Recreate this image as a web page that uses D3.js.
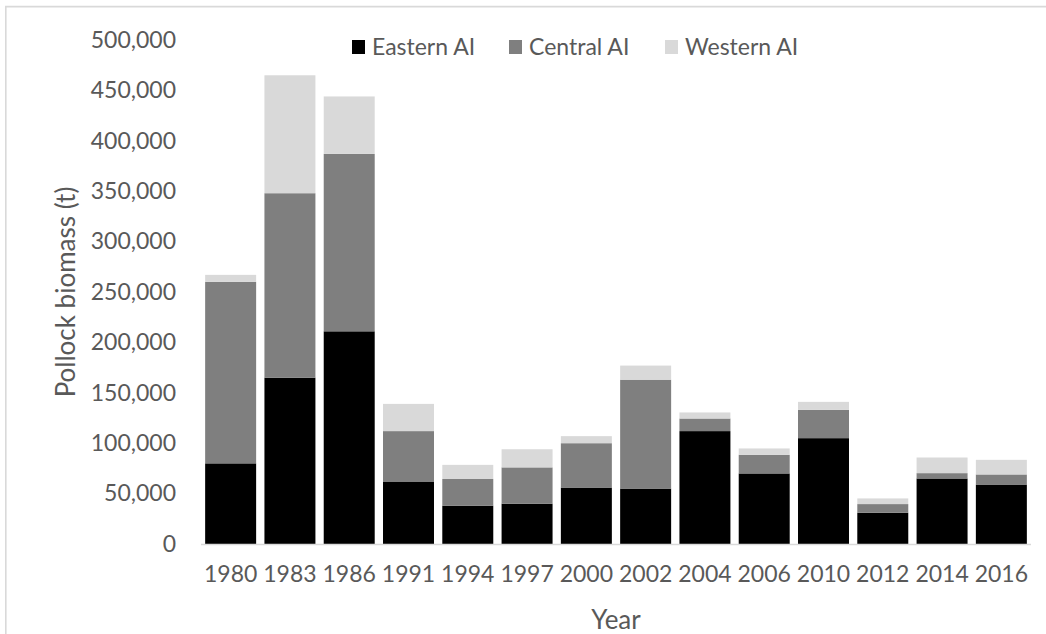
<!DOCTYPE html>
<html>
<head>
<meta charset="utf-8">
<script src="https://cdn.jsdelivr.net/npm/d3@7"></script>
<style>
  body { margin: 0; background: #fff; }
  text { font-family: Lato, "Open Sans", sans-serif; fill: #595959; }
</style>
</head>
<body>
<script>
// survey years and biomass (t) by area
var years   = ["1980","1983","1986","1991","1994","1997","2000","2002","2004","2006","2010","2012","2014","2016"];
var eastern = [80000, 165000, 211000, 62000, 38000, 40000, 56000, 55000, 112000, 70000, 105000, 31000, 65000, 59000];
var central = [180000, 183000, 176000, 50000, 26500, 36000, 44000, 108000, 12500, 18500, 28000, 8600, 5300, 10000];
var western = [7000, 117000, 57000, 27000, 14000, 18000, 7000, 14000, 6000, 6300, 8000, 5600, 15500, 14500];
var yTicks  = [0, 50000, 100000, 150000, 200000, 250000, 300000, 350000, 400000, 450000, 500000];

var seriesNames = ["Eastern AI", "Central AI", "Western AI"];
var colors = ["#000000", "#7f7f7f", "#d9d9d9"];

var width = 1046, height = 634;
var margin = {left: 201, right: 15, top: 40, bottom: 90};

var svg = d3.select("body").append("svg")
  .attr("width", width)
  .attr("height", height);

// chart border (cropped on right and bottom)
svg.append("path")
  .attr("d", "M5.8," + height + "V6.6H" + width)
  .attr("fill", "none")
  .attr("stroke", "#d9d9d9")
  .attr("stroke-width", 1.6);

var rows = years.map(function(y, i){
  return {year: y, "Eastern AI": eastern[i], "Central AI": central[i], "Western AI": western[i]};
});

var stacked = d3.stack().keys(seriesNames)(rows);

var x = d3.scaleBand()
  .domain(years)
  .range([margin.left, width - margin.right])
  .paddingInner(0.14)
  .paddingOuter(0.07);

var y = d3.scaleLinear()
  .domain([0, 500000])
  .range([544, 40]);

// bars
svg.append("g")
  .selectAll("g")
  .data(stacked)
  .enter().append("g")
  .attr("fill", function(d, i){ return colors[i]; })
  .selectAll("rect")
  .data(function(d){ return d; })
  .enter().append("rect")
  .attr("x", function(d){ return x(d.data.year); })
  .attr("y", function(d){ return y(d[1]); })
  .attr("height", function(d){ return y(d[0]) - y(d[1]); })
  .attr("width", x.bandwidth());

// baseline
svg.append("line")
  .attr("x1", margin.left).attr("x2", width - margin.right)
  .attr("y1", y(0) + 0.5).attr("y2", y(0) + 0.5)
  .attr("stroke", "#d9d9d9")
  .attr("stroke-width", 1.5);

// y axis labels
var yAxis = svg.append("g")
  .attr("transform", "translate(176,0)")
  .call(d3.axisLeft(y).tickValues(yTicks).tickSize(0).tickPadding(0).tickFormat(d3.format(",")));
yAxis.select(".domain").remove();
yAxis.selectAll("text")
  .attr("font-size", 23)
  .attr("fill", "#595959")
  .style("font-family", "Lato, sans-serif");

// x axis labels
var xAxis = svg.append("g")
  .attr("transform", "translate(0," + (y(0) + 22) + ")")
  .call(d3.axisBottom(x).tickSize(0).tickPadding(0));
xAxis.select(".domain").remove();
xAxis.selectAll("text")
  .attr("font-size", 23)
  .attr("fill", "#595959")
  .style("font-family", "Lato, sans-serif");

// axis titles
svg.append("text")
  .attr("x", (margin.left + width - margin.right) / 2)
  .attr("y", 629)
  .attr("text-anchor", "middle")
  .attr("font-size", 26)
  .text("Year");

svg.append("text")
  .attr("transform", "translate(75," + 292 + ") rotate(-90)")
  .attr("text-anchor", "middle")
  .attr("font-size", 26)
  .text("Pollock biomass (t)");

// legend
var legendX = [352, 509, 665];
var legend = svg.append("g")
  .selectAll("g")
  .data(seriesNames)
  .enter().append("g")
  .attr("transform", function(d, i){ return "translate(" + legendX[i] + ",40)"; });

legend.append("rect")
  .attr("width", 13)
  .attr("height", 14)
  .attr("fill", function(d, i){ return colors[i]; });

legend.append("text")
  .attr("x", 20)
  .attr("y", 7)
  .attr("dy", "0.35em")
  .attr("font-size", 23)
  .text(function(d){ return d; });
</script>
</body>
</html>
